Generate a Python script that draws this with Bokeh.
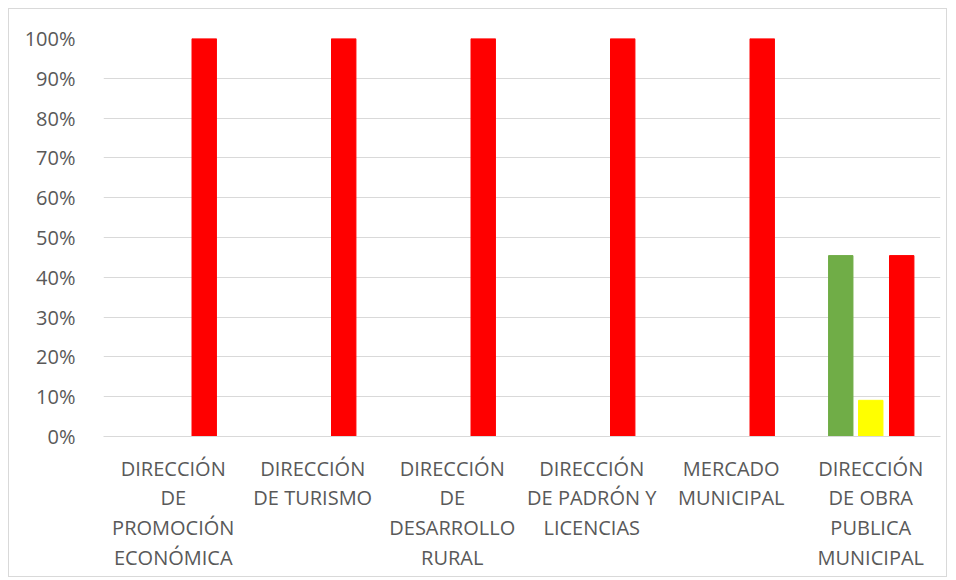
from bokeh.plotting import figure
from bokeh.models import ColumnDataSource, NumeralTickFormatter, FixedTicker
from bokeh.transform import dodge
from bokeh.embed import file_html
from bokeh.resources import INLINE

categories = [
    "DIRECCIÓN\nDE\nPROMOCIÓN\nECONÓMICA",
    "DIRECCIÓN\nDE TURISMO",
    "DIRECCIÓN\nDE\nDESARROLLO\nRURAL",
    "DIRECCIÓN\nDE PADRÓN Y\nLICENCIAS",
    "MERCADO\nMUNICIPAL",
    "DIRECCIÓN\nDE OBRA\nPUBLICA\nMUNICIPAL",
]
green_vals = [0, 0, 0, 0, 0, 0.4545]
yellow_vals = [0, 0, 0, 0, 0, 0.0909]
red_vals = [1.0, 1.0, 1.0, 1.0, 1.0, 0.4545]
y_ticks = [0, 0.1, 0.2, 0.3, 0.4, 0.5, 0.6, 0.7, 0.8, 0.9, 1.0]

src = ColumnDataSource(dict(cat=categories, g=green_vals, y=yellow_vals, r=red_vals))

p = figure(x_range=categories, y_range=(0, 1), width=939, height=569,
           output_backend="svg", toolbar_location=None,
           min_border_left=94, min_border_right=8, min_border_top=29, min_border_bottom=142)
p.margin = (8, 8, 0, 8)
p.styles = {"border": "1px solid #d9d9d9"}

font = "Open Sans"
bw = 0.175
p.vbar(x=dodge("cat", -0.215, range=p.x_range), top="g", width=bw, source=src, color="#70AD47")
p.vbar(x=dodge("cat", 0.0, range=p.x_range), top="y", width=bw, source=src, color="#FFFF00")
p.vbar(x=dodge("cat", 0.222, range=p.x_range), top="r", width=bw, source=src, color="#FF0000")

p.outline_line_color = None
p.xgrid.grid_line_color = None
p.ygrid.grid_line_color = "#d9d9d9"
p.ygrid.grid_line_width = 1

p.yaxis.ticker = FixedTicker(ticks=y_ticks)
p.yaxis.formatter = NumeralTickFormatter(format="0%")
p.yaxis.axis_line_color = None
p.yaxis.major_tick_line_color = None
p.yaxis.minor_tick_line_color = None
p.yaxis.major_label_text_font = font
p.yaxis.major_label_text_font_size = "20px"
p.yaxis.major_label_text_color = "#595959"
p.yaxis.major_label_standoff = 22

p.xaxis.axis_line_color = "#d9d9d9"
p.xaxis.major_tick_line_color = None
p.xaxis.minor_tick_line_color = None
p.xaxis.major_label_text_font = font
p.xaxis.major_label_text_font_size = "20px"
p.xaxis.major_label_text_color = "#595959"
p.xaxis.major_label_text_line_height = 1.1
p.xaxis.major_label_standoff = 12

open("out.html", "w").write(file_html(p, INLINE))
